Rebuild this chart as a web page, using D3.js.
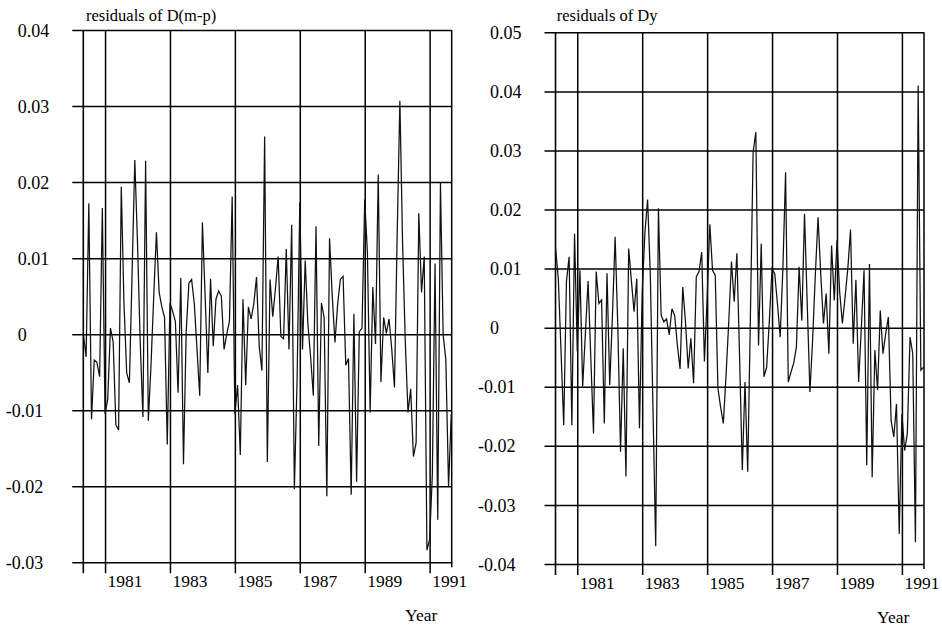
<!DOCTYPE html>
<html>
<head>
<meta charset="utf-8">
<script src="https://cdn.jsdelivr.net/npm/d3@7"></script>
<style>
  html, body { margin: 0; padding: 0; background: #fff; }
  svg text { font-family: "Liberation Serif", "Times New Roman", serif; fill: #000; }
</style>
</head>
<body>
<svg id="chart" width="942" height="631"></svg>
<script>
// Monthly residual series, first observation May 1980
const firstMonth = 1980 + 4 / 12;
const yearTicks = [1981, 1983, 1985, 1987, 1989, 1991];

const residualsMP = [
  0.000, -0.003, 0.0172, -0.0112, -0.0034, -0.0037, -0.0056, 0.0166, -0.0105, -0.0085,
  0.0008, -0.001, -0.0119, -0.0126, 0.0194, 0.004, -0.0051, -0.0064, 0.008, 0.0229,
  0.012, -0.001, -0.0109, 0.0228, -0.0114, -0.004, 0.005, 0.0134, 0.0055, 0.0036,
  0.0022, -0.0145, 0.0041, 0.003, 0.0017, -0.0077, 0.0074, -0.0171, 0.0003, 0.0067,
  0.0072, 0.004, -0.002, -0.0081, 0.0147, 0.005, -0.0051, 0.0073, -0.0016, 0.0046,
  0.0057, 0.005, -0.002, 0.000, 0.0017, 0.0181, -0.0105, -0.0067, -0.0159, 0.0046,
  -0.0067, 0.0036, 0.002, 0.004, 0.0075, -0.0016, -0.0048, 0.026, -0.0168, 0.0072,
  0.0023, 0.006, 0.0102, -0.0003, -0.0006, 0.0112, -0.002, 0.0144, -0.0204, -0.006,
  0.0173, -0.002, 0.0097, 0.0013, -0.003, -0.0081, 0.0142, -0.0147, 0.0041, 0.0022,
  -0.0213, 0.0126, 0.005, -0.0011, 0.004, 0.0072, 0.0076, -0.0041, -0.0032, -0.0211,
  0.0027, -0.0194, 0.0003, 0.0008, 0.0177, 0.0107, -0.0103, 0.0062, -0.0013, 0.021,
  -0.0063, 0.0022, 0.0001, 0.002, -0.002, -0.007, 0.013, 0.0307, 0.012, -0.001,
  -0.0103, -0.0072, -0.0161, -0.0143, 0.0159, 0.0055, 0.0102, -0.0284, -0.027, -0.0185,
  0.0093, -0.0244, 0.0199, -0.0001, -0.0034, -0.0201, -0.0105
];

const residualsDy = [
  0.0134, 0.0083, -0.004, -0.0165, 0.0078, 0.012, -0.0165, 0.0159, -0.004, 0.0097,
  -0.01, -0.001, 0.0079, -0.005, -0.0179, 0.0095, 0.0041, 0.0047, -0.0162, 0.0092,
  -0.0097, 0.002, 0.0154, 0.000, -0.021, -0.0035, -0.0252, 0.0134, 0.008, 0.0027,
  0.0083, -0.017, 0.006, 0.016, 0.0217, 0.009, -0.014, -0.037, 0.0202, 0.0021,
  0.001, 0.0015, -0.0012, 0.0032, 0.0021, -0.003, -0.007, 0.0069, 0.001, -0.0069,
  -0.0018, -0.0094, 0.0086, 0.0095, 0.0128, -0.0057, 0.005, 0.0175, 0.0097, 0.0089,
  -0.0103, -0.0135, -0.0162, -0.008, 0.001, 0.0112, 0.0044, 0.0126,
  -0.005, -0.0241, -0.0092, -0.0244, 0.002, 0.0297, 0.0331, -0.003, 0.0142, -0.0083,
  -0.0067, 0.0012, 0.01, 0.0091, 0.004, -0.0016, 0.01, 0.0263, -0.0092, -0.0075,
  -0.006, -0.0033, 0.0103, 0.0012, 0.0193, 0.004, -0.0109, -0.002, 0.009, 0.0187,
  0.009, 0.0007, 0.0058, -0.0044, 0.0139, 0.0046, 0.0148, 0.006, 0.0007, 0.0052,
  0.01, 0.0166, -0.0027, 0.0081, -0.0092, 0.000, 0.0097, -0.0233, 0.0108, -0.0253,
  -0.0038, -0.0106, 0.0029, -0.0044, -0.001, 0.0018, -0.0157, -0.0185, -0.0129, -0.0349,
  -0.0146, -0.0208, -0.0179, -0.0016, -0.0044, -0.0363, 0.041, -0.0072, -0.0067
];

const ticksMP = [0.04, 0.03, 0.02, 0.01, 0, -0.01, -0.02, -0.03];
const ticksDy = [0.05, 0.04, 0.03, 0.02, 0.01, 0, -0.01, -0.02, -0.03, -0.04];

const titleMP = "residuals of D(m-p)";
const titleDy = "residuals of Dy";
const xTitle = "Year";

// Panel geometry
const panels = [
  { title: titleMP, values: residualsMP, ticks: ticksMP,
    left: 83.3, right: 451.7, top: 30, bottom: 562.3, titleX: 86, yearX: 405, yearY: 621 },
  { title: titleDy, values: residualsDy, ticks: ticksDy,
    left: 555.5, right: 924, top: 32.3, bottom: 564, titleX: 556.7, yearX: 877, yearY: 623 }
];

const svg = d3.select("#chart");
const timeDomain = [1980.33, 1991.68];
// plain hyphen for negative values, bare "0" at zero
const fmt = d => d === 0 ? "0" : d3.format(".2f")(d).replace("\u2212", "-");
const tickOut = 11;

panels.forEach(p => {
  const g = svg.append("g");
  const x = d3.scaleLinear().domain(timeDomain).range([p.left, p.right]);
  const y = d3.scaleLinear().domain([d3.min(p.ticks), d3.max(p.ticks)]).range([p.bottom, p.top]);

  // horizontal grid + value labels
  const yAxis = d3.axisLeft(y)
    .tickValues(p.ticks)
    .tickSize(-(p.right - p.left + tickOut))
    .tickFormat(fmt);
  const yg = g.append("g")
    .attr("transform", `translate(${p.left - tickOut},0)`)
    .call(yAxis);
  yg.select(".domain").remove();
  yg.selectAll(".tick line").attr("stroke", "#000").attr("stroke-width", 1.5);
  yg.selectAll(".tick text")
    .attr("text-anchor", "start")
    .attr("x", d => d < 0 ? -66.5 : -54.5)
    .attr("dy", "0.34em")
    .style("font-size", "18px");

  // vertical grid + year labels
  const xAxis = d3.axisBottom(x)
    .tickValues(yearTicks)
    .tickSize(p.bottom - p.top + tickOut)
    .tickFormat(d3.format("d"));
  const xg = g.append("g")
    .attr("transform", `translate(0,${p.top})`)
    .call(xAxis);
  xg.select(".domain").remove();
  xg.selectAll(".tick line").attr("stroke", "#000").attr("stroke-width", 1.5);
  xg.selectAll(".tick text")
    .attr("text-anchor", "start")
    .attr("x", 2)
    .attr("y", p.bottom - p.top + 25)
    .attr("dy", 0)
    .style("font-size", "17.5px");

  // frame: left spine with its tick, right border
  g.append("line")
    .attr("x1", p.left).attr("x2", p.left)
    .attr("y1", p.top).attr("y2", p.bottom + tickOut)
    .attr("stroke", "#000").attr("stroke-width", 1.6);
  g.append("line")
    .attr("x1", p.right).attr("x2", p.right)
    .attr("y1", p.top).attr("y2", p.bottom + 5)
    .attr("stroke", "#000").attr("stroke-width", 1.5);

  // residual series
  const line = d3.line()
    .x((d, i) => x(firstMonth + i / 12))
    .y(d => y(d));
  g.append("path")
    .datum(p.values)
    .attr("fill", "none")
    .attr("stroke", "#111")
    .attr("stroke-width", 1.25)
    .attr("stroke-linejoin", "miter")
    .attr("d", line);

  // titles
  g.append("text")
    .attr("x", p.titleX).attr("y", 21)
    .style("font-size", "16.5px")
    .text(p.title);
  g.append("text")
    .attr("x", p.yearX).attr("y", p.yearY)
    .style("font-size", "17.5px")
    .text(xTitle);
});
</script>
</body>
</html>
